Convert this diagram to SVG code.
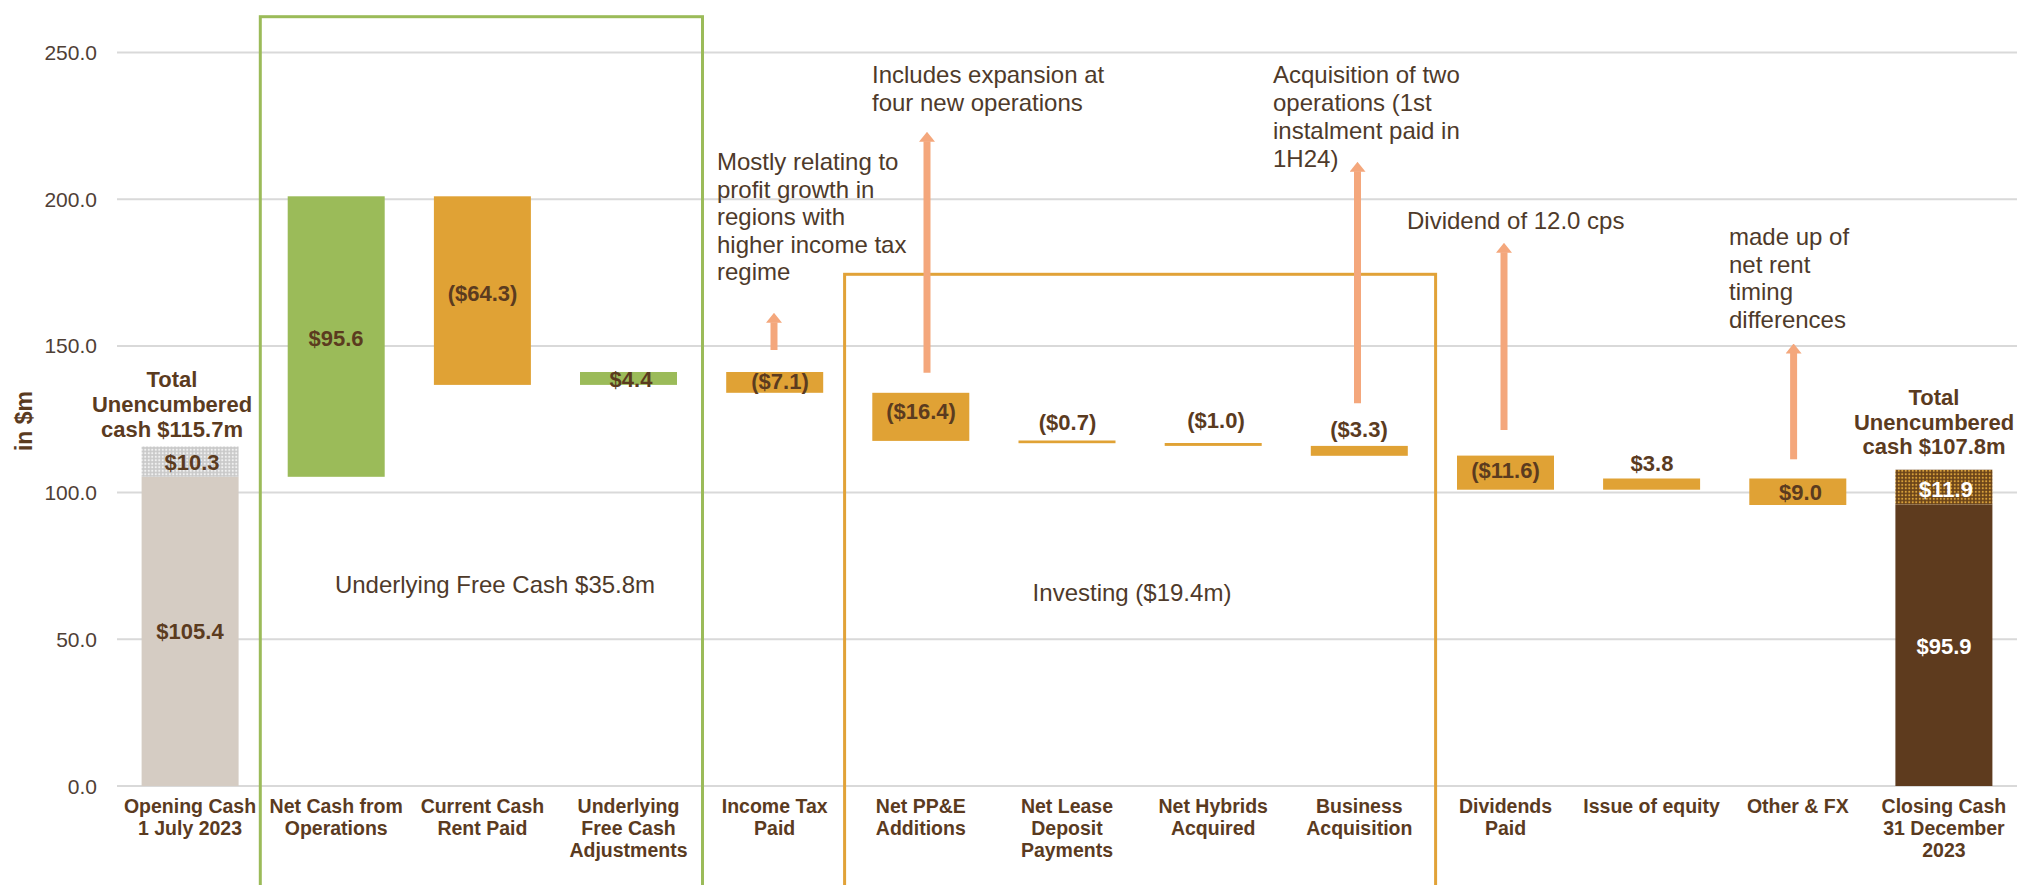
<svg xmlns="http://www.w3.org/2000/svg" width="2019" height="885" viewBox="0 0 2019 885">
<style>
text{font-family:"Liberation Sans",Arial,sans-serif}
.grid{stroke:#d9d9d9;stroke-width:2}
.ax{font-size:21px;fill:#4f4036;text-anchor:end}
.cat{font-size:19.5px;font-weight:bold;fill:#5b3b1f;text-anchor:middle}
.val{font-size:22px;font-weight:bold;fill:#5b3b1f;text-anchor:middle}
.wval{font-size:22px;font-weight:bold;fill:#ffffff;text-anchor:middle}
.note{font-size:24px;fill:#4e3a2a}
.sec{font-size:24px;fill:#4e3a2a;text-anchor:middle}
.green{fill:#9bbb59}
.orange{fill:#e0a235}
.arrow{stroke:#f4a77c;stroke-width:7;fill:none;marker-end:url(#ah)}
</style>
<defs>
<pattern id="dotGrey" patternUnits="userSpaceOnUse" width="3.5" height="3.5">
<rect width="3.5" height="3.5" fill="#c9c9c9"/>
<circle cx="1.75" cy="1.75" r="1.1" fill="#f2f2f2"/>
</pattern>
<pattern id="dotBrown" patternUnits="userSpaceOnUse" width="3.5" height="3.5">
<rect width="3.5" height="3.5" fill="#6a4319"/>
<circle cx="1.75" cy="1.75" r="1.1" fill="#d9a03a"/>
</pattern>
<marker id="ah" markerUnits="userSpaceOnUse" markerWidth="10" markerHeight="16" viewBox="0 0 10 16" refX="0.5" refY="8" orient="auto">
<path d="M0,0 L10,8 L0,16 Z" fill="#f4a77c"/>
</marker>
</defs>
<rect width="2019" height="885" fill="#ffffff"/>

<g id="axis">
<line class="grid" x1="117" y1="52.5" x2="2017" y2="52.5"/>
<line class="grid" x1="117" y1="199.2" x2="2017" y2="199.2"/>
<line class="grid" x1="117" y1="345.9" x2="2017" y2="345.9"/>
<line class="grid" x1="117" y1="492.6" x2="2017" y2="492.6"/>
<line class="grid" x1="117" y1="639.3" x2="2017" y2="639.3"/>
<line class="grid" x1="117" y1="786" x2="2017" y2="786"/>
<text class="ax" x="97" y="60">250.0</text>
<text class="ax" x="97" y="206.7">200.0</text>
<text class="ax" x="97" y="353.4">150.0</text>
<text class="ax" x="97" y="500.1">100.0</text>
<text class="ax" x="97" y="646.8">50.0</text>
<text class="ax" x="97" y="793.5">0.0</text>
<text x="0" y="0" transform="translate(32,421) rotate(-90)" style="font-size:23px;font-weight:bold;fill:#5b3b1f;text-anchor:middle">in $m</text>
</g>

<g id="group-boxes">
<rect x="260.3" y="16.7" width="442.2" height="900" fill="none" stroke="#9bbb59" stroke-width="3"/>
<rect x="844.6" y="274.3" width="591" height="700" fill="none" stroke="#e1a238" stroke-width="3"/>
<text class="sec" x="495" y="593">Underlying Free Cash $35.8m</text>
<text class="sec" x="1132" y="601">Investing ($19.4m)</text>
</g>

<g id="opening-cash">
<rect x="141.6" y="476.8" width="97" height="309.2" fill="#d5ccc3"/>
<rect x="141.6" y="446.5" width="97" height="30.3" fill="url(#dotGrey)"/>
<text class="val" x="192" y="470">$10.3</text>
<text class="val" x="190" y="639">$105.4</text>
<text class="val" x="172" y="386.5">Total</text>
<text class="val" x="172" y="411.5">Unencumbered</text>
<text class="val" x="172" y="436.5">cash $115.7m</text>
<text class="cat" x="190" y="813">Opening Cash</text>
<text class="cat" x="190" y="835">1 July 2023</text>
</g>

<g id="net-cash-ops">
<rect class="green" x="287.7" y="196.3" width="97" height="280.5"/>
<text class="val" x="336" y="346">$95.6</text>
<text class="cat" x="336.2" y="813">Net Cash from</text>
<text class="cat" x="336.2" y="835">Operations</text>
</g>

<g id="rent-paid">
<rect class="orange" x="433.9" y="196.3" width="97" height="188.6"/>
<text class="val" x="482.5" y="301">($64.3)</text>
<text class="cat" x="482.4" y="813">Current Cash</text>
<text class="cat" x="482.4" y="835">Rent Paid</text>
</g>

<g id="fcf-adjustments">
<rect class="green" x="580" y="372" width="97" height="12.9"/>
<text class="val" x="631" y="386.5">$4.4</text>
<text class="cat" x="628.5" y="813">Underlying</text>
<text class="cat" x="628.5" y="835">Free Cash</text>
<text class="cat" x="628.5" y="857">Adjustments</text>
</g>

<g id="income-tax">
<rect class="orange" x="726.2" y="372" width="97" height="20.8"/>
<text class="val" x="780" y="389">($7.1)</text>
<text class="cat" x="774.7" y="813">Income Tax</text>
<text class="cat" x="774.7" y="835">Paid</text>
<text class="note" x="717" y="170">Mostly relating to</text>
<text class="note" x="717" y="197.5">profit growth in</text>
<text class="note" x="717" y="225">regions with</text>
<text class="note" x="717" y="252.5">higher income tax</text>
<text class="note" x="717" y="280">regime</text>
</g>

<g id="ppe-additions">
<rect class="orange" x="872.3" y="392.8" width="97" height="48.1"/>
<text class="val" x="921" y="419">($16.4)</text>
<text class="cat" x="920.8" y="813">Net PP&amp;E</text>
<text class="cat" x="920.8" y="835">Additions</text>
<text class="note" x="872" y="83">Includes expansion at</text>
<text class="note" x="872" y="111">four new operations</text>
</g>

<g id="lease-deposit">
<rect class="orange" x="1018.5" y="440.5" width="97" height="2.7"/>
<text class="val" x="1067.5" y="430">($0.7)</text>
<text class="cat" x="1067" y="813">Net Lease</text>
<text class="cat" x="1067" y="835">Deposit</text>
<text class="cat" x="1067" y="857">Payments</text>
</g>

<g id="hybrids">
<rect class="orange" x="1164.7" y="443" width="97" height="2.9"/>
<text class="val" x="1216" y="428">($1.0)</text>
<text class="cat" x="1213.2" y="813">Net Hybrids</text>
<text class="cat" x="1213.2" y="835">Acquired</text>
</g>

<g id="business-acquisition">
<rect class="orange" x="1310.8" y="445.9" width="97" height="9.9"/>
<text class="val" x="1359" y="437">($3.3)</text>
<text class="cat" x="1359.3" y="813">Business</text>
<text class="cat" x="1359.3" y="835">Acquisition</text>
<text class="note" x="1273" y="83">Acquisition of two</text>
<text class="note" x="1273" y="111">operations (1st</text>
<text class="note" x="1273" y="139">instalment paid in</text>
<text class="note" x="1273" y="167">1H24)</text>
</g>

<g id="dividends">
<rect class="orange" x="1457" y="455.6" width="97" height="34.1"/>
<text class="val" x="1505.5" y="478">($11.6)</text>
<text class="cat" x="1505.5" y="813">Dividends</text>
<text class="cat" x="1505.5" y="835">Paid</text>
<text class="note" x="1407" y="229">Dividend of 12.0 cps</text>
</g>

<g id="issue-equity">
<rect class="orange" x="1603.1" y="478.5" width="97" height="11.2"/>
<text class="val" x="1652" y="470.5">$3.8</text>
<text class="cat" x="1651.6" y="813">Issue of equity</text>
</g>

<g id="other-fx">
<rect class="orange" x="1749.3" y="478.5" width="97" height="26.5"/>
<text class="val" x="1800.5" y="500">$9.0</text>
<text class="cat" x="1797.8" y="813">Other &amp; FX</text>
<text class="note" x="1729" y="245">made up of</text>
<text class="note" x="1729" y="272.5">net rent</text>
<text class="note" x="1729" y="300">timing</text>
<text class="note" x="1729" y="327.5">differences</text>
</g>

<g id="closing-cash">
<rect x="1895.4" y="504.6" width="97" height="281.4" fill="#5e3b1e"/>
<rect x="1895.4" y="469.7" width="97" height="34.9" fill="url(#dotBrown)"/>
<text class="wval" x="1946" y="496.5">$11.9</text>
<text class="wval" x="1944" y="654">$95.9</text>
<text class="val" x="1934" y="404.5">Total</text>
<text class="val" x="1934" y="429.5">Unencumbered</text>
<text class="val" x="1934" y="454">cash $107.8m</text>
<text class="cat" x="1943.9" y="813">Closing Cash</text>
<text class="cat" x="1943.9" y="835">31 December</text>
<text class="cat" x="1943.9" y="857">2023</text>
</g>

<g id="connectors">
<line class="arrow" x1="774" y1="350" x2="774" y2="322.3"/>
<line class="arrow" x1="927" y1="372.7" x2="927" y2="141.3"/>
<line class="arrow" x1="1357.5" y1="403.3" x2="1357.5" y2="171.3"/>
<line class="arrow" x1="1504" y1="430" x2="1504" y2="252.3"/>
<line class="arrow" x1="1793.6" y1="459.3" x2="1793.6" y2="353"/>
</g>
</svg>
